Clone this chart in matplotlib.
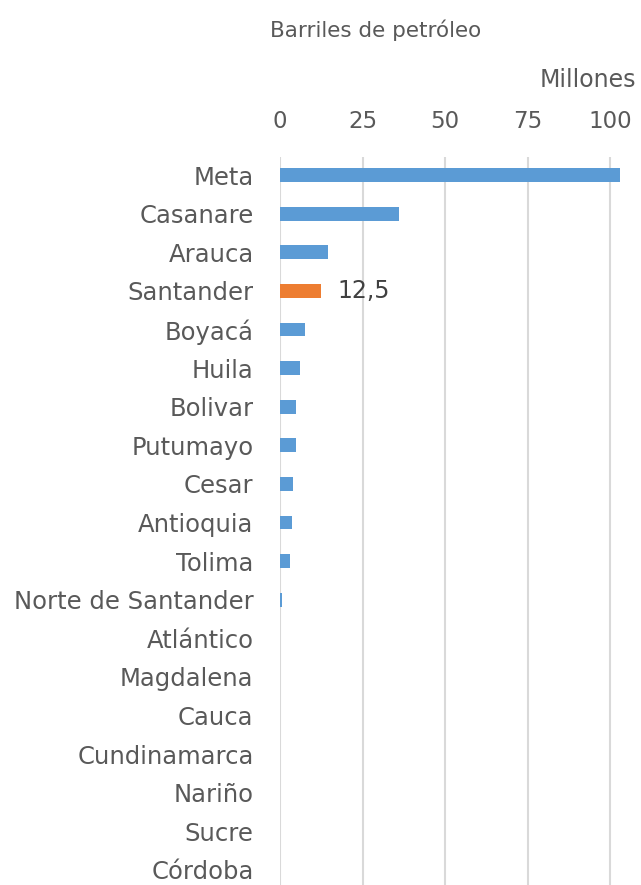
import matplotlib.pyplot as plt

# ── Data ──────────────────────────────────────────────────────────────────────
departamentos = ['Meta', 'Casanare', 'Arauca', 'Santander', 'Boyacá', 'Huila',
                 'Bolivar', 'Putumayo', 'Cesar', 'Antioquia', 'Tolima',
                 'Norte de Santander', 'Atlántico', 'Magdalena', 'Cauca',
                 'Cundinamarca', 'Nariño', 'Sucre', 'Córdoba']
barriles = [103.0, 35.9, 14.5, 12.5, 7.6, 6.0, 4.8, 4.7, 3.9, 3.7, 3.1,
            0.5, 0.0, 0.0, 0.0, 0.0, 0.0, 0.0, 0.0]
destacado = 'Santander'
xticks = [0, 25, 50, 75, 100]

azul = '#5b9bd5'
naranja = '#ed7d31'
gris_texto = '#595959'

# ── Plot ──────────────────────────────────────────────────────────────────────
fig = plt.figure(figsize=(6.41, 8.85), dpi=100)
ax = fig.add_axes([280 / 641, 0.0, 340 / 641, (885 - 157) / 885])

colores = [naranja if d == destacado else azul for d in departamentos]
pos = range(len(departamentos))
ax.barh(pos, barriles, height=0.36, color=colores, zorder=3)

i = departamentos.index(destacado)
ax.text(barriles[i] + 4.8, i, f'{barriles[i]:.1f}'.replace('.', ','),
        va='center', ha='left', fontsize=17, color='#404040')

ax.set_xlim(0, 103)
ax.set_ylim(18.39, -0.47)
ax.set_yticks(list(pos))
ax.set_yticklabels(departamentos, fontsize=17.5, color=gris_texto)
ax.set_xticks(xticks)
ax.set_xticklabels([str(t) for t in xticks], fontsize=16.5, color=gris_texto)
ax.xaxis.tick_top()
ax.tick_params(axis='both', length=0)
ax.tick_params(axis='x', pad=17)
ax.tick_params(axis='y', pad=19)
for s in ax.spines.values():
    s.set_visible(False)
ax.grid(axis='x', color='#d9d9d9', linewidth=1.5, zorder=0)

fig.text(376 / 641, 1 - 30 / 885, 'Barriles de petróleo', ha='center',
         va='center', fontsize=15.5, color=gris_texto)
fig.text(636 / 641, 1 - 80 / 885, 'Millones', ha='right', va='center',
         fontsize=17, color=gris_texto)

fig.savefig('out.png', dpi=100)
